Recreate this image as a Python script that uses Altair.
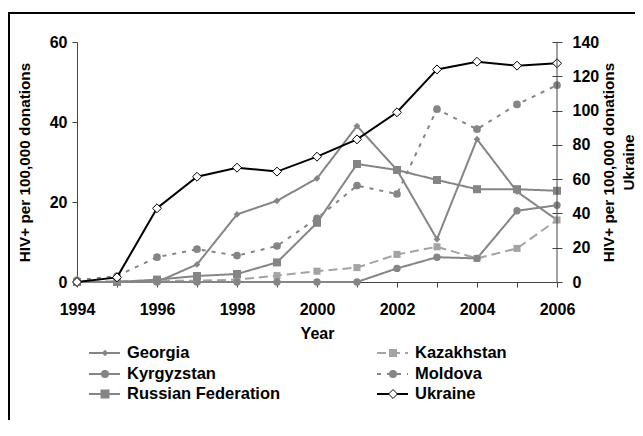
import altair as alt
import pandas as pd

years = list(range(1994, 2007))
left_names = ["Georgia", "Kazakhstan", "Kyrgyzstan", "Moldova", "Russian Federation"]
georgia = [0, 0, 0, 4.4, 16.9, 20.3, 25.9, 39.0, 28.0, 10.7, 35.7, 22.6, 15.5]
kazakhstan = [0, 0.2, 0.3, 0.3, 0.6, 1.6, 2.7, 3.6, 6.9, 8.8, 5.9, 8.4, 15.5]
kyrgyzstan = [0, 0, 0, 0, 0, 0, 0, 0, 3.4, 6.2, 5.9, 17.8, 19.2]
moldova = [0.4, 1.5, 6.2, 8.2, 6.6, 9.0, 15.9, 24.1, 22.0, 43.2, 38.2, 44.4, 49.2]
russia = [0, 0, 0.6, 1.5, 2.0, 4.9, 14.8, 29.5, 28.0, 25.5, 23.2, 23.2, 22.8]
ukraine = [0, 2.7, 43.0, 61.4, 66.7, 64.4, 73.1, 83.2, 99.0, 124.0, 128.5, 126.2, 127.6]
left_ticks = [0, 20, 40, 60]
right_ticks = [0, 20, 40, 60, 80, 100, 120, 140]

left_values = [georgia, kazakhstan, kyrgyzstan, moldova, russia]

GREY = "#858585"
LIGHT = "#a3a3a3"
AX = "#444444"
FONT = "Liberation Sans"

colors = [GREY, LIGHT, GREY, GREY, GREY]
dashes = [[1, 0], [9, 5], [1, 0], [4, 6], [1, 0]]
shapes = ["diamond", "square", "circle", "circle", "square"]
sizes = [45, 64, 64, 64, 81]

rows = []
for name, vals in zip(left_names, left_values):
    for yr, v in zip(years, vals):
        rows.append({"country": name, "year": yr, "value": v})
df = pd.DataFrame(rows)
uk = pd.DataFrame({"year": years, "value": ukraine})
one = pd.DataFrame({"k": [0]})

x_enc = alt.X(
    "year:Q",
    scale=alt.Scale(domain=[1994, 2006], nice=False, zero=False),
    axis=alt.Axis(
        values=years,
        labelExpr="datum.value % 2 == 0 ? '' + datum.value : ''",
        labelFlush=False,
        labelOverlap=False,
        title="Year",
        grid=False,
        tickSize=5,
        tickColor=AX,
        domainColor=AX,
        labelPadding=14,
        labelFont=FONT,
        labelFontSize=16,
        labelFontWeight="bold",
        labelColor="black",
        titleFont=FONT,
        titleFontSize=16,
        titleFontWeight="bold",
        titleColor="black",
        titleY=51,
        titleBaseline="middle",
    ),
)

y_left = alt.Y(
    "value:Q",
    scale=alt.Scale(domain=[0, 60], nice=False),
    axis=alt.Axis(
        values=left_ticks,
        labelFlush=False,
        grid=False,
        tickSize=5,
        tickColor=AX,
        domainColor=AX,
        labelPadding=5,
        labelFont=FONT,
        labelFontSize=16,
        labelFontWeight="bold",
        labelColor="black",
        title="HIV+ per 100,000 donations",
        titleFont=FONT,
        titleFontSize=15.3,
        titleFontWeight="bold",
        titleColor="black",
        titleAngle=270,
        titleX=-53,
        titleY=120,
        titleAlign="center",
        titleBaseline="middle",
    ),
)

y_right = alt.Y(
    "value:Q",
    scale=alt.Scale(domain=[0, 140], nice=False),
    axis=alt.Axis(
        orient="right",
        values=right_ticks,
        labelFlush=False,
        grid=False,
        offset=-5,
        domain=False,
        tickSize=10,
        tickColor=AX,
        labelPadding=10,
        labelFont=FONT,
        labelFontSize=16,
        labelFontWeight="bold",
        labelColor="black",
        title=["HIV+ per 100,000 donations", "Ukraine"],
        titleFont=FONT,
        titleFontSize=15.3,
        titleFontWeight="bold",
        titleColor="black",
        titleAngle=270,
        titleX=56,
        titleY=120,
        titleAlign="center",
        titleBaseline="middle",
        titleLineHeight=20,
    ),
)

c_enc = alt.Color("country:N", scale=alt.Scale(domain=left_names, range=colors), legend=None)

left_line = alt.Chart(df).mark_line(strokeWidth=2).encode(
    x=x_enc,
    y=y_left,
    color=c_enc,
    strokeDash=alt.StrokeDash("country:N", scale=alt.Scale(domain=left_names, range=dashes), legend=None),
)
left_pts = alt.Chart(df).mark_point(filled=True, opacity=1).encode(
    x=x_enc,
    y=y_left,
    color=c_enc,
    shape=alt.Shape("country:N", scale=alt.Scale(domain=left_names, range=shapes), legend=None),
    size=alt.Size("country:N", scale=alt.Scale(domain=left_names, range=sizes), legend=None),
)
left = alt.layer(left_line, left_pts)

uk_line = alt.Chart(uk).mark_line(color="black", strokeWidth=2).encode(x=x_enc, y=y_right)
uk_pts = alt.Chart(uk).mark_point(
    shape="diamond", filled=True, fill="white", stroke="black", strokeWidth=1, size=80, opacity=1
).encode(x=x_enc, y=y_right)
right = alt.layer(uk_line, uk_pts)

decor = []
decor.append(
    alt.Chart(one).mark_rect(filled=False, stroke="black", strokeWidth=2).encode(
        x=alt.value(-68), x2=alt.value(640), y=alt.value(-29), y2=alt.value(600)
    )
)
decor.append(
    alt.Chart(one).mark_rule(color=AX, strokeWidth=1).encode(
        x=alt.value(480), y=alt.value(0), y2=alt.value(240)
    )
)

all_names = left_names + ["Ukraine"]
all_colors = colors + ["black"]
all_dashes = dashes + [[1, 0]]
all_shapes = shapes + ["diamond"]
all_sizes = sizes + [80]
col_x = [12, 300]
row_y = [311, 332, 352]
for i, name in enumerate(all_names):
    x0 = col_x[i % 2]
    y0 = row_y[i // 2]
    decor.append(
        alt.Chart(one).mark_rule(color=all_colors[i], strokeWidth=2, strokeDash=all_dashes[i]).encode(
            x=alt.value(x0), x2=alt.value(x0 + 31), y=alt.value(y0)
        )
    )
    if name == "Ukraine":
        pt = alt.Chart(one).mark_point(
            shape="diamond", filled=True, fill="white", stroke="black", strokeWidth=1, size=all_sizes[i], opacity=1
        )
    else:
        pt = alt.Chart(one).mark_point(
            shape=all_shapes[i], filled=True, color=all_colors[i], size=all_sizes[i], opacity=1
        )
    decor.append(pt.encode(x=alt.value(x0 + 16), y=alt.value(y0)))
    decor.append(
        alt.Chart(one).mark_text(
            text=name, align="left", baseline="middle", font=FONT, fontSize=16.5, fontWeight="bold", color="black"
        ).encode(x=alt.value(x0 + 38), y=alt.value(y0))
    )

chart = (
    alt.layer(left, right, *decor)
    .resolve_scale(y="independent")
    .properties(
        width=480,
        height=240,
        padding={"left": 69, "top": 34, "right": 78, "bottom": 138},
        autosize=alt.AutoSizeParams(type="none"),
    )
    .configure_view(strokeWidth=0)
)

chart.save("out.html", embed_options={"renderer": "svg", "actions": False})
